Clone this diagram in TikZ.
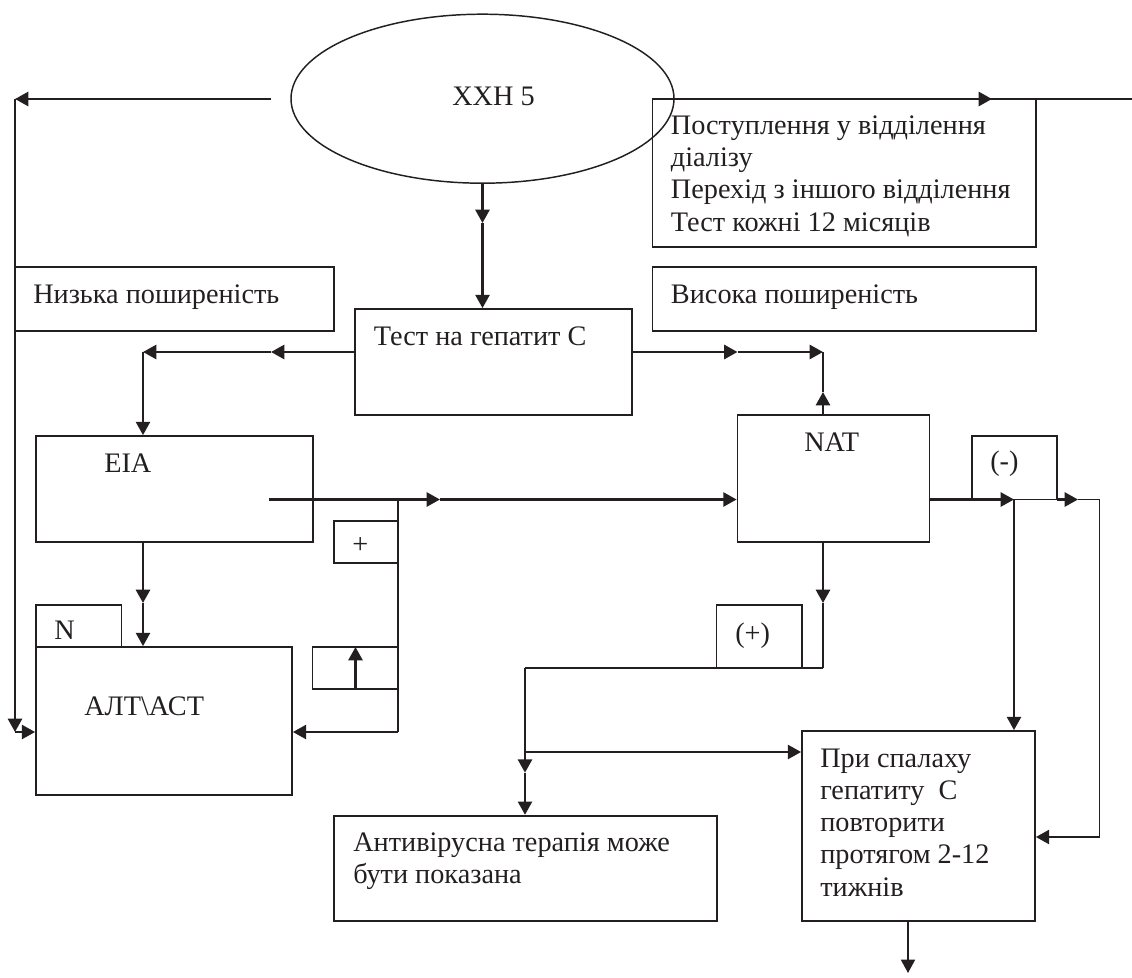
\documentclass[tikz,border=0pt]{standalone}
\usepackage{fontspec}
\setmainfont{Liberation Serif}
\usetikzlibrary{arrows.meta,fit,shapes.geometric}
\definecolor{ink}{HTML}{231F20}
\tikzset{
  boxst/.style={draw=ink,line width=1.3pt,inner sep=0pt},
  ovalst/.style={ellipse,draw=ink,line width=1.1pt,inner sep=0pt,minimum width=287.25pt,minimum height=126.75pt},
  txt/.style={anchor=base west,inner sep=0pt,text=ink,font=\fontsize{21.2}{21.2}\selectfont},
  tip/.style={-{Triangle[length=10pt,width=10.5pt]}},
  thk/.style={draw=ink,line width=2pt},
  thn/.style={draw=ink,line width=1.3pt},
}
\begin{document}
\begin{tikzpicture}[x=0.75pt,y=-0.75pt]
\useasboundingbox (0,0) rectangle (1132,978);
% boxes
\node[ovalst] (oval) at (482.5,98.7) {};
\node[boxst,fit={(15,267)(334,331)}] (low) {};
\node[boxst,fit={(355,309)(632,415)}] (test) {};
\node[boxst,fit={(652.6,99)(1036,246.7)}] (admit) {};
\node[boxst,fit={(652.6,267)(1036,331)}] (high) {};
\node[boxst,fit={(36,436)(313,542)}] (eia) {};
\node[boxst,fit={(737.5,415)(929.5,542)}] (nat) {};
\node[boxst,fit={(36,647)(292,795)}] (alt) {};
\node[boxst,fit={(36,605)(121.6,647)}] (nbox) {};
\node[boxst,fit={(334,520.7)(398,562.7)}] (plusbox) {};
\node[boxst,fit={(312.6,647)(398,689)}] (upbox) {};
\node[boxst,fit={(972,436)(1057,499.5)}] (minus) {};
\node[boxst,fit={(716.5,605)(802,667.7)}] (pos) {};
\node[boxst,fit={(334,815.7)(717,921)}] (anti) {};
\node[boxst,fit={(802,731)(1035,921)}] (flare) {};
% texts
\node[txt] (t1) at (452,105) {ХХН 5};
\node[txt] (t2) at (33,303) {Низька поширеність};
\node[txt] (t3) at (373.6,345) {Тест на гепатит С};
\node[txt] (t4) at (670.7,134.5) {Поступлення у відділення};
\node[txt] (t5) at (670.7,166.5) {діалізу};
\node[txt] (t6) at (670.7,198.5) {Перехід з іншого відділення};
\node[txt] (t7) at (670.7,231) {Тест кожні 12 місяців};
\node[txt] (t8) at (670.7,303) {Висока поширеність};
\node[txt] (t9) at (104,472) {EIA};
\node[txt] (t10) at (804,451) {NAT};
\node[txt] (t11) at (54,639) {N};
\node[txt] (t12) at (84,715) {АЛТ\textbackslash АСТ};
\node[txt] (t13) at (352,553) {+};
\node[txt] (t14) at (990,470) {(-)};
\node[txt] (t15) at (735,642) {(+)};
\node[txt] (t16) at (353,851) {Антивірусна терапія може};
\node[txt] (t17) at (353,883) {бути показана};
\node[txt] (t18) at (820,767) {При спалаху};
\node[txt] (t19) at (820,799) {гепатиту\ \ С};
\node[txt] (t20) at (820,831) {повторити};
\node[txt] (t21) at (820,863) {протягом 2-12};
\node[txt] (t22) at (820,896) {тижнів};
% junctions
\coordinate (lstart) at (271,99);
\coordinate (lcorner) at (15,99);
\coordinate (lend) at (15,732);
\coordinate (rstart) at (674,99);
\coordinate (rmid) at (992,99);
\coordinate (rend) at (1132,99);
\coordinate (omid) at (482.5,223);
\coordinate (tl) at (271,352);
\coordinate (tc) at (143,352);
\coordinate (tr) at (737.5,352);
\coordinate (tn) at (823,352);
\coordinate (nup) at (823,392);
\coordinate (estart) at (269,499.5);
\coordinate (ejoin) at (398,499.5);
\coordinate (emid) at (440,499.5);
\coordinate (ebelow) at (143,603);
\coordinate (arr) at (398,732);
\coordinate (upfoot) at (355.5,689);
\coordinate (upend) at (355.5,647);
\coordinate (nmid) at (823,603);
\coordinate (ncorner) at (823,667.7);
\coordinate (brn) at (525,667.7);
\coordinate (brj) at (525,752);
\coordinate (brm) at (525,772.7);
\coordinate (nr1) at (1014,499.5);
\coordinate (nr2) at (1057,499.5);
\coordinate (nr3) at (1078,499.5);
\coordinate (nr4) at (1099.6,499.5);
\coordinate (nr5) at (1099.6,837);
\coordinate (fdown) at (908,921);
\coordinate (fend) at (908,973);
% connectors
\draw[thk,tip] (lstart) -- (lcorner);
\draw[thk,tip] (lcorner) -- (lend);
\draw[thk,tip] (lend) -- (alt.west |- lend);
\draw[thk,tip] (rstart) -- (rmid);
\draw[thn] (rmid) -- (rend);
\draw[thk,tip] (oval.south) -- (omid);
\draw[thk,tip] (omid) -- (omid |- test.north);
\draw[thk,tip] (test.west |- tl) -- (tl);
\draw[thk,tip] (tl) -- (tc);
\draw[thk,tip] (tc) -- (tc |- eia.north);
\draw[thk,tip] (test.east |- tr) -- (tr);
\draw[thk,tip] (tr) -- (tn);
\draw[thk,tip] (tn |- nat.north) -- (nup);
\draw[thk] (nup) -- (tn);
\draw[thk,tip] (estart) -- (emid);
\draw[thk,tip] (emid) -- (nat.west |- emid);
\draw[thn] (ejoin) -- (arr);
\draw[thk,tip] (arr) -- (alt.east |- arr);
\draw[thk,tip] (tc |- eia.south) -- (ebelow);
\draw[thk,tip] (ebelow) -- (ebelow |- alt.north);
\draw[thk,tip] (upfoot) -- (upend);
\draw[thk,tip] (tn |- nat.south) -- (nmid);
\draw[thk] (nmid) -- (ncorner);
\draw[thn] (ncorner) -- (brn);
\draw[thk,tip] (brn) -- (brm);
\draw[thk,tip] (brm) -- (brm |- anti.north);
\draw[thk,tip] (brj) -- (flare.west |- brj);
\draw[thk,tip] (nat.east |- nr1) -- (nr1);
\draw[thn] (nr1) -- (nr2);
\draw[thk,tip] (nr2) -- (nr3);
\draw[thn] (nr3) -- (nr4) -- (nr5);
\draw[thk,tip] (nr5) -- (flare.east |- nr5);
\draw[thk,tip] (nr1) -- (nr1 |- flare.north);
\draw[thn,tip] (fdown) -- (fend);
\end{tikzpicture}
\end{document}
